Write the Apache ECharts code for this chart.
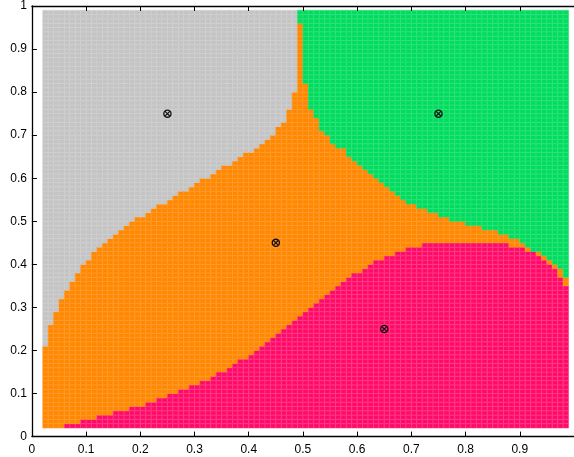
<!DOCTYPE html>
<html>
<head>
<meta charset="utf-8">
<script src="https://cdn.jsdelivr.net/npm/echarts@6/dist/echarts.min.js"></script>
<style>
html,body{margin:0;padding:0;background:#fff;}
#chart{width:574px;height:457px;}
</style>
</head>
<body>
<div id="chart"></div>
<script>
// Lattice of cells (lower-left corners), 0.01 resolution, x and y from 0.02 to 0.98
const cellStep = 0.01;
const firstCell = 2;   // in hundredths
const cellCount = 97;

// Per column (x = 0.02 ... 0.98): row (in hundredths) from which the class starts
// gray occupies y >= grayFrom, green occupies y >= greenFrom, pink occupies y < pinkBelow
const grayFrom = [21,26,29,32,34,36,38,40,41,43,44,45,46,47,48,49,50,51,51,52,53,54,54,55,56,57,57,58,59,60,60,61,62,63,63,64,65,66,66,67,68,69,70,72,73,76,80,
  100,100,100,100,100,100,100,100,100,100,100,100,100,100,100,100,100,100,100,100,100,100,100,100,100,100,100,100,100,100,100,100,100,100,100,100,100,100,100,100,100,100,100,100,100,100,100,100,100,100];
const greenFrom = [100,100,100,100,100,100,100,100,100,100,100,100,100,100,100,100,100,100,100,100,100,100,100,100,100,100,100,100,100,100,100,100,100,100,100,100,100,100,100,100,100,100,100,100,100,100,100,
  96,82,76,74,71,70,68,67,67,65,64,63,62,61,60,59,58,57,56,55,54,54,53,53,52,52,51,51,50,50,50,49,49,49,48,48,48,47,47,46,46,45,44,43,43,42,41,40,39,37];
const pinkBelow = [2,2,2,2,3,3,3,4,4,4,5,5,5,6,6,6,7,7,7,8,8,9,9,10,10,11,11,12,12,13,13,14,15,15,16,17,18,18,19,20,21,22,23,24,25,26,27,28,29,30,31,32,33,34,35,36,37,38,38,39,40,41,41,42,42,43,43,44,44,44,
  45,45,45,45,45,45,45,45,45,45,45,45,45,45,45,45,44,44,44,43,43,42,41,40,39,37,35];

const classNames = ['gray','orange','pink','green'];
const prototypes = [[0.25,0.75],[0.75,0.75],[0.45,0.45],[0.65,0.25]];
const xTickLabels = ['0','0.1','0.2','0.3','0.4','0.5','0.6','0.7','0.8','0.9'];
const yTickLabels = ['0','0.1','0.2','0.3','0.4','0.5','0.6','0.7','0.8','0.9','1'];

const fillColors = {gray:'#c4c4c4', orange:'#ff8800', pink:'#ff0a68', green:'#00dc5e'};
const lineColors = {gray:'#d0d0d0', orange:'#ff9b2e', pink:'#ff4088', green:'#30e27c'};

const cells = [];
for (let i = 0; i < cellCount; i++) {
  for (let j = 0; j < cellCount; j++) {
    const m = firstCell + j;
    let c;
    if (m >= grayFrom[i]) c = 0;
    else if (m >= greenFrom[i]) c = 3;
    else if (m < pinkBelow[i]) c = 2;
    else c = 1;
    cells.push([(firstCell + i) / 100, m / 100, c]);
  }
}

const chart = echarts.init(document.getElementById('chart'), null, {renderer:'canvas', width:574, height:457});
const labelFont = {fontFamily:'Liberation Sans, Arial, sans-serif', fontSize:12, color:'#000'};
chart.setOption({
  animation:false,
  backgroundColor:'#fff',
  grid:{left:31.9, top:4.8, width:546.6, height:431.8, containLabel:false},
  xAxis:[{
    type:'value', min:0, max:1, interval:0.1, position:'bottom',
    axisLine:{show:true, onZero:false, lineStyle:{color:'#000', width:1.3}},
    axisTick:{show:true, inside:true, length:5, lineStyle:{color:'#000'}},
    axisLabel:Object.assign({margin:7, showMaxLabel:false,
      formatter:function(v){const k=Math.round(v*10); return k<xTickLabels.length?xTickLabels[k]:'';}}, labelFont),
    splitLine:{show:false}, z:10
  },{
    type:'value', min:0, max:1, interval:0.1, position:'top',
    axisLine:{show:true, onZero:false, lineStyle:{color:'#000', width:1.3}},
    axisTick:{show:true, inside:true, length:5, lineStyle:{color:'#000'}},
    axisLabel:{show:false}, splitLine:{show:false}, z:10
  }],
  yAxis:[{
    type:'value', min:0, max:1, interval:0.1,
    axisLine:{show:true, onZero:false, lineStyle:{color:'#000', width:1.3}},
    axisTick:{show:true, inside:true, length:5, lineStyle:{color:'#000'}},
    axisLabel:Object.assign({margin:5,
      formatter:function(v){return yTickLabels[Math.round(v*10)];}}, labelFont),
    splitLine:{show:false}, z:10
  }],
  series:[{
    type:'custom',
    coordinateSystem:'cartesian2d',
    xAxisIndex:0, yAxisIndex:0,
    data:cells,
    clip:true,
    renderItem:function(params, api){
      const x = api.value(0), y = api.value(1), c = classNames[api.value(2)];
      const p0 = api.coord([x, y]);
      const p1 = api.coord([x + cellStep, y + cellStep]);
      return {
        type:'rect',
        shape:{x:p0[0], y:p1[1], width:p1[0]-p0[0], height:p0[1]-p1[1]},
        style:{fill:fillColors[c], stroke:lineColors[c], lineWidth:0.6}
      };
    }
  },{
    type:'custom',
    coordinateSystem:'cartesian2d',
    data:prototypes,
    z:5,
    renderItem:function(params, api){
      const p = api.coord([api.value(0), api.value(1)]);
      const r = 3.6, d = r*0.72;
      return {
        type:'group',
        children:[
          {type:'circle', shape:{cx:p[0], cy:p[1], r:r}, style:{fill:'none', stroke:'#111', lineWidth:1.3}},
          {type:'line', shape:{x1:p[0]-d, y1:p[1]-d, x2:p[0]+d, y2:p[1]+d}, style:{stroke:'#111', lineWidth:1.1}},
          {type:'line', shape:{x1:p[0]-d, y1:p[1]+d, x2:p[0]+d, y2:p[1]-d}, style:{stroke:'#111', lineWidth:1.1}}
        ]
      };
    }
  }]
});
</script>
</body>
</html>
